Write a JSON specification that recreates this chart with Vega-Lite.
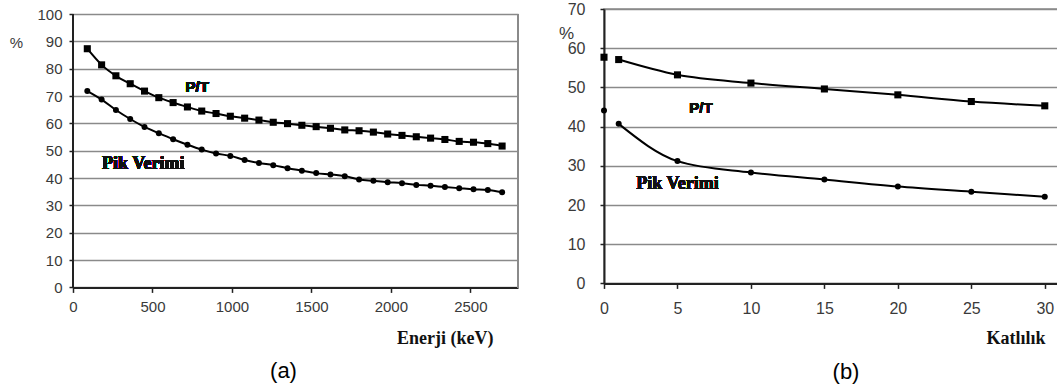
{
  "$schema": "https://vega.github.io/schema/vega-lite/v6.json",
  "padding": {"left": 9, "top": 0, "right": 0, "bottom": 0},
  "background": "white",
  "config": {
    "view": {"stroke": "#8a8a8a", "strokeWidth": 1.5},
    "axis": {
      "labelFont": "Liberation Sans",
      "labelColor": "#3a3a3a",
      "labelOverlap": false,
      "labelFlush": false,
      "format": "d",
      "domainColor": "#222222",
      "domainWidth": 2,
      "tickColor": "#222222",
      "tickWidth": 1.5,
      "gridColor": "#8a8a8a",
      "gridWidth": 1.5
    },
    "title": {"font": "Liberation Sans", "fontSize": 22, "fontWeight": "normal", "color": "black", "orient": "bottom", "offset": 10}
  },
  "spacing": 38,
  "hconcat": [
    {
      "width": 445,
      "height": 278.4,
      "view": {"stroke": null},
      "title": {"text": "(a)", "dx": -12, "offset": 13.5},
      "data": {
        "values": [
          {"E": 90, "series": "P/T", "v": 87.3}, {"E": 180, "series": "P/T", "v": 81.4}, {"E": 270, "series": "P/T", "v": 77.4},
          {"E": 360, "series": "P/T", "v": 74.5}, {"E": 450, "series": "P/T", "v": 71.8}, {"E": 540, "series": "P/T", "v": 69.4},
          {"E": 630, "series": "P/T", "v": 67.6}, {"E": 720, "series": "P/T", "v": 66.0}, {"E": 810, "series": "P/T", "v": 64.5},
          {"E": 900, "series": "P/T", "v": 63.6}, {"E": 990, "series": "P/T", "v": 62.6}, {"E": 1080, "series": "P/T", "v": 61.9},
          {"E": 1170, "series": "P/T", "v": 61.2}, {"E": 1260, "series": "P/T", "v": 60.4}, {"E": 1350, "series": "P/T", "v": 59.9},
          {"E": 1440, "series": "P/T", "v": 59.3}, {"E": 1530, "series": "P/T", "v": 58.8}, {"E": 1620, "series": "P/T", "v": 58.2},
          {"E": 1710, "series": "P/T", "v": 57.6}, {"E": 1800, "series": "P/T", "v": 57.3}, {"E": 1890, "series": "P/T", "v": 56.8},
          {"E": 1980, "series": "P/T", "v": 56.1}, {"E": 2070, "series": "P/T", "v": 55.6}, {"E": 2160, "series": "P/T", "v": 55.1},
          {"E": 2250, "series": "P/T", "v": 54.6}, {"E": 2340, "series": "P/T", "v": 54.1}, {"E": 2430, "series": "P/T", "v": 53.4},
          {"E": 2520, "series": "P/T", "v": 53.1}, {"E": 2610, "series": "P/T", "v": 52.6}, {"E": 2700, "series": "P/T", "v": 51.7},
          {"E": 90, "series": "Pik Verimi", "v": 71.8}, {"E": 180, "series": "Pik Verimi", "v": 68.7}, {"E": 270, "series": "Pik Verimi", "v": 64.9},
          {"E": 360, "series": "Pik Verimi", "v": 61.6}, {"E": 450, "series": "Pik Verimi", "v": 58.7}, {"E": 540, "series": "Pik Verimi", "v": 56.4},
          {"E": 630, "series": "Pik Verimi", "v": 54.2}, {"E": 720, "series": "Pik Verimi", "v": 52.2}, {"E": 810, "series": "Pik Verimi", "v": 50.4},
          {"E": 900, "series": "Pik Verimi", "v": 49.0}, {"E": 990, "series": "Pik Verimi", "v": 48.1}, {"E": 1080, "series": "Pik Verimi", "v": 46.6},
          {"E": 1170, "series": "Pik Verimi", "v": 45.5}, {"E": 1260, "series": "Pik Verimi", "v": 44.7}, {"E": 1350, "series": "Pik Verimi", "v": 43.6},
          {"E": 1440, "series": "Pik Verimi", "v": 42.7}, {"E": 1530, "series": "Pik Verimi", "v": 41.8}, {"E": 1620, "series": "Pik Verimi", "v": 41.3},
          {"E": 1710, "series": "Pik Verimi", "v": 40.7}, {"E": 1800, "series": "Pik Verimi", "v": 39.5}, {"E": 1890, "series": "Pik Verimi", "v": 39.0},
          {"E": 1980, "series": "Pik Verimi", "v": 38.5}, {"E": 2070, "series": "Pik Verimi", "v": 38.1}, {"E": 2160, "series": "Pik Verimi", "v": 37.5},
          {"E": 2250, "series": "Pik Verimi", "v": 37.2}, {"E": 2340, "series": "Pik Verimi", "v": 36.7}, {"E": 2430, "series": "Pik Verimi", "v": 36.3},
          {"E": 2520, "series": "Pik Verimi", "v": 35.9}, {"E": 2610, "series": "Pik Verimi", "v": 35.6}, {"E": 2700, "series": "Pik Verimi", "v": 34.8}
        ]
      },
      "encoding": {
        "x": {"field": "E", "type": "quantitative", "scale": {"domain": [0, 2800], "nice": false},
          "axis": {"values": [0, 500, 1000, 1500, 2000, 2500], "tickCount": 30, "grid": false, "tickSize": 5, "labelFontSize": 15, "labelPadding": 7,
            "title": "Enerji (keV)", "titleFont": "Liberation Serif", "titleFontWeight": "bold", "titleFontSize": 18, "titleColor": "#111",
            "titleAnchor": "start", "titleAlign": "right", "titleBaseline": "middle", "titleX": 420, "titleY": 50.6}},
        "y": {"field": "v", "type": "quantitative", "scale": {"domain": [0, 101.83], "nice": false},
          "axis": {"values": [0, 10, 20, 30, 40, 50, 60, 70, 80, 90, 100], "tickCount": 30, "grid": true, "domain": false, "tickSize": 4, "labelFontSize": 15, "labelPadding": 7,
            "title": "%", "titleFont": "Liberation Sans", "titleFontWeight": "normal", "titleFontSize": 15, "titleColor": "#3a3a3a",
            "titleAngle": 0, "titleAlign": "center", "titleBaseline": "middle", "titleX": -57, "titleY": 33}}
      },
      "layer": [
        {
          "mark": {"type": "rule", "color": "#8a8a8a", "strokeWidth": 1.5},
          "encoding": {"x": {"datum": 2800}, "y": {"datum": 0}, "y2": {"datum": 100}}
        },
        {
          "mark": {"type": "rule", "color": "#222222", "strokeWidth": 2},
          "encoding": {"x": {"datum": 0}, "y": {"datum": 0}, "y2": {"datum": 100}}
        },
        {
          "mark": {"type": "line", "interpolate": "monotone", "color": "black", "strokeWidth": 2},
          "encoding": {"detail": {"field": "series"}}
        },
        {
          "mark": {"type": "point", "filled": true, "color": "black", "opacity": 1},
          "encoding": {
            "shape": {"field": "series", "type": "nominal", "scale": {"domain": ["P/T", "Pik Verimi"], "range": ["square", "circle"]}, "legend": null},
            "size": {"field": "series", "type": "nominal", "scale": {"domain": ["P/T", "Pik Verimi"], "range": [50, 36]}, "legend": null}
          }
        },
        {
          "mark": {"type": "text", "font": "Liberation Sans", "fontWeight": "bold", "fontSize": 15, "color": "#111"},
          "encoding": {"x": {"datum": 782}, "y": {"datum": 73.4}, "text": {"value": "P/T"}}
        },
        {
          "mark": {"type": "text", "font": "Liberation Serif", "fontWeight": "bold", "fontSize": 18, "color": "#111"},
          "encoding": {"x": {"datum": 442}, "y": {"datum": 45.2}, "text": {"value": "Pik Verimi"}}
        }
      ]
    },
    {
      "width": 454,
      "height": 274.4,
      "title": {"text": "(b)", "dx": 15, "offset": 14.5},
      "data": {
        "values": [
          {"t": 0, "series": "P/T", "v": 57.7}, {"t": 1, "series": "P/T", "v": 57.1}, {"t": 5, "series": "P/T", "v": 53.2},
          {"t": 10, "series": "P/T", "v": 51.1}, {"t": 15, "series": "P/T", "v": 49.6}, {"t": 20, "series": "P/T", "v": 48.1},
          {"t": 25, "series": "P/T", "v": 46.4}, {"t": 30, "series": "P/T", "v": 45.3},
          {"t": 0, "series": "Pik Verimi", "v": 44.1}, {"t": 1, "series": "Pik Verimi", "v": 40.7}, {"t": 5, "series": "Pik Verimi", "v": 31.2},
          {"t": 10, "series": "Pik Verimi", "v": 28.3}, {"t": 15, "series": "Pik Verimi", "v": 26.5}, {"t": 20, "series": "Pik Verimi", "v": 24.7},
          {"t": 25, "series": "Pik Verimi", "v": 23.4}, {"t": 30, "series": "Pik Verimi", "v": 22.1}
        ]
      },
      "encoding": {
        "x": {"field": "t", "type": "quantitative", "scale": {"domain": [0, 30.9], "nice": false},
          "axis": {"values": [0, 5, 10, 15, 20, 25, 30], "tickCount": 30, "grid": false, "tickSize": 5, "labelFontSize": 16, "labelPadding": 12.5,
            "title": "Katlılık", "titleFont": "Liberation Serif", "titleFontWeight": "bold", "titleFontSize": 18, "titleColor": "#111",
            "titleAnchor": "start", "titleAlign": "right", "titleBaseline": "middle", "titleX": 441, "titleY": 54.6}},
        "y": {"field": "v", "type": "quantitative", "scale": {"domain": [0, 70], "nice": false},
          "axis": {"values": [0, 10, 20, 30, 40, 50, 60, 70], "tickCount": 30, "grid": true, "tickSize": 4, "labelFontSize": 16, "labelPadding": 15,
            "title": "%", "titleFont": "Liberation Sans", "titleFontWeight": "normal", "titleFontSize": 17, "titleColor": "#3a3a3a",
            "titleAngle": 0, "titleAlign": "center", "titleBaseline": "middle", "titleX": -38, "titleY": 24}}
      },
      "layer": [
        {
          "transform": [{"filter": "datum.t >= 1"}],
          "mark": {"type": "line", "interpolate": "monotone", "color": "black", "strokeWidth": 2},
          "encoding": {"detail": {"field": "series"}}
        },
        {
          "mark": {"type": "point", "filled": true, "color": "black", "opacity": 1},
          "encoding": {
            "shape": {"field": "series", "type": "nominal", "scale": {"domain": ["P/T", "Pik Verimi"], "range": ["square", "circle"]}, "legend": null},
            "size": {"field": "series", "type": "nominal", "scale": {"domain": ["P/T", "Pik Verimi"], "range": [55, 40]}, "legend": null}
          }
        },
        {
          "mark": {"type": "text", "font": "Liberation Sans", "fontWeight": "bold", "fontSize": 15, "color": "#111"},
          "encoding": {"x": {"datum": 6.6}, "y": {"datum": 44.8}, "text": {"value": "P/T"}}
        },
        {
          "mark": {"type": "text", "font": "Liberation Serif", "fontWeight": "bold", "fontSize": 18, "color": "#111"},
          "encoding": {"x": {"datum": 5.0}, "y": {"datum": 25.4}, "text": {"value": "Pik Verimi"}}
        }
      ]
    }
  ]
}
